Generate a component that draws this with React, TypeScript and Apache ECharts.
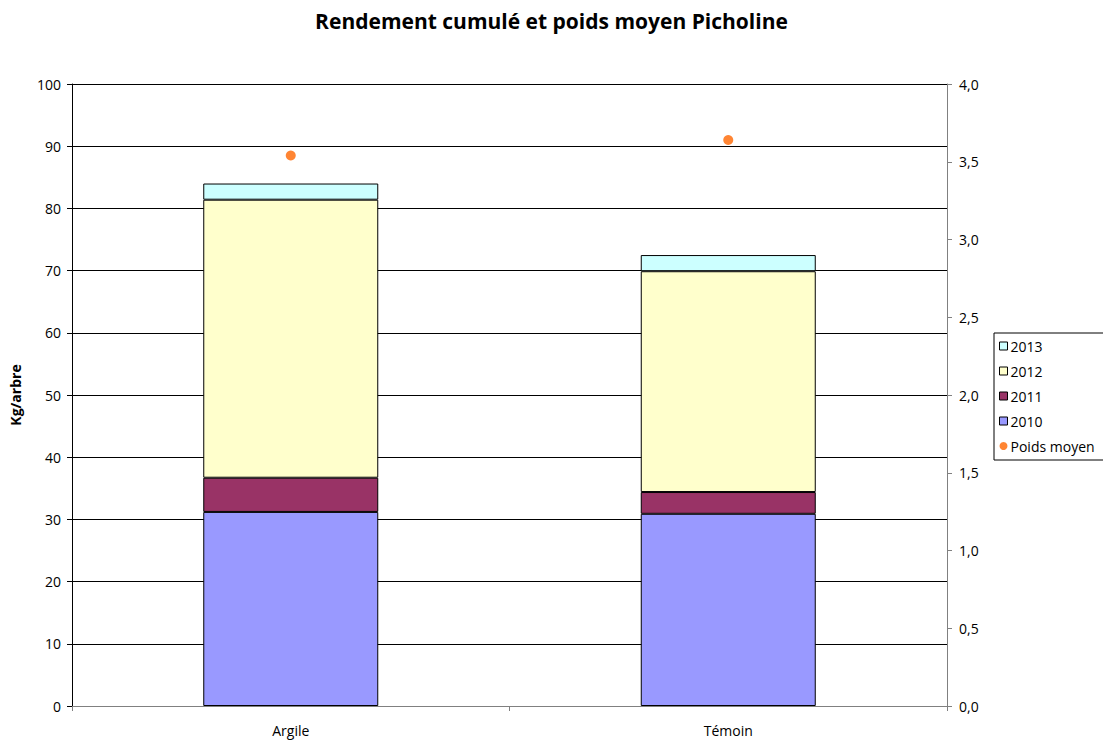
import React, { useEffect, useRef } from "react";
import * as echarts from "echarts";

const categories = ["Argile", "Témoin"];
const y2010 = [31.2, 30.9];
const y2011 = [5.5, 3.5];
const y2012 = [44.7, 35.5];
const y2013 = [2.6, 2.6];
const poidsMoyen = [3.54, 3.64];

const FONT = "Open Sans";

export default function App() {
  const ref = useRef<HTMLDivElement>(null);
  useEffect(() => {
    document.body.style.margin = "0";
    const chart = echarts.init(ref.current!, null, { renderer: "svg" });
    const barStyle = (color: string) => ({
      color,
      borderColor: "#000",
      borderWidth: 1,
    });
    const legendBar = (name: string) => ({
      name,
      icon: "rect",
      itemStyle: { borderColor: "#000", borderWidth: 1 },
    });
    chart.setOption({
      animation: false,
      textStyle: { fontFamily: FONT },
      title: {
        text: "Rendement cumulé et poids moyen Picholine",
        left: "center",
        top: 5,
        textStyle: { fontFamily: FONT, fontSize: 21, fontWeight: "bold", color: "#000" },
      },
      legend: {
        orient: "vertical",
        left: 994,
        top: 333,
        data: [
          legendBar("2013"),
          legendBar("2012"),
          legendBar("2011"),
          legendBar("2010"),
          { name: "Poids moyen", icon: "circle" },
        ],
        itemWidth: 8,
        itemHeight: 8,
        itemGap: 9,
        padding: [5, 16, 6, 5],
        borderColor: "#000",
        borderWidth: 1,
        borderRadius: 0,
        textStyle: { fontFamily: FONT, fontSize: 14, lineHeight: 16, color: "#000", padding: [0, 0, 0, -2] },
      },
      grid: { left: 72, right: 156, top: 84, bottom: 34 },
      xAxis: {
        type: "category",
        data: categories,
        axisLine: { lineStyle: { color: "#808080" } },
        axisTick: { show: true, interval: 0, length: 5, lineStyle: { color: "#808080" } },
        axisLabel: { fontFamily: FONT, fontSize: 14, color: "#000", margin: 17 },
      },
      yAxis: [
        {
          type: "value",
          min: 0,
          max: 100,
          interval: 10,
          name: "Kg/arbre",
          nameLocation: "middle",
          nameRotate: 90,
          nameGap: 50,
          nameTextStyle: { fontFamily: FONT, fontSize: 14, fontWeight: "bold", color: "#000" },
          axisLine: { show: true, lineStyle: { color: "#000" } },
          axisTick: { show: true, length: 5, lineStyle: { color: "#000" } },
          axisLabel: { fontFamily: FONT, fontSize: 14, color: "#000", margin: 11 },
          splitLine: { show: true, lineStyle: { color: "#000", width: 1 } },
        },
        {
          type: "value",
          min: 0,
          max: 4,
          interval: 0.5,
          position: "right",
          axisLine: { show: true, lineStyle: { color: "#808080" } },
          axisTick: { show: true, length: 5, lineStyle: { color: "#808080" } },
          axisLabel: {
            fontFamily: FONT,
            fontSize: 14,
            color: "#000",
            margin: 12,
            formatter: (v: number) => v.toFixed(1).replace(".", ","),
          },
          splitLine: { show: false },
        },
      ],
      series: [
        { name: "2010", type: "bar", stack: "a", data: y2010, barWidth: "40%", itemStyle: barStyle("#9999FF") },
        { name: "2011", type: "bar", stack: "a", data: y2011, itemStyle: barStyle("#993366") },
        { name: "2012", type: "bar", stack: "a", data: y2012, itemStyle: barStyle("#FFFFCC") },
        { name: "2013", type: "bar", stack: "a", data: y2013, itemStyle: barStyle("#CCFFFF") },
        {
          name: "Poids moyen",
          type: "scatter",
          yAxisIndex: 1,
          data: poidsMoyen,
          symbol: "circle",
          symbolSize: 10,
          itemStyle: { color: "#FF6600" },
        },
      ],
    });
    return () => chart.dispose();
  }, []);
  return <div ref={ref} style={{ width: 1103, height: 740 }} />;
}
